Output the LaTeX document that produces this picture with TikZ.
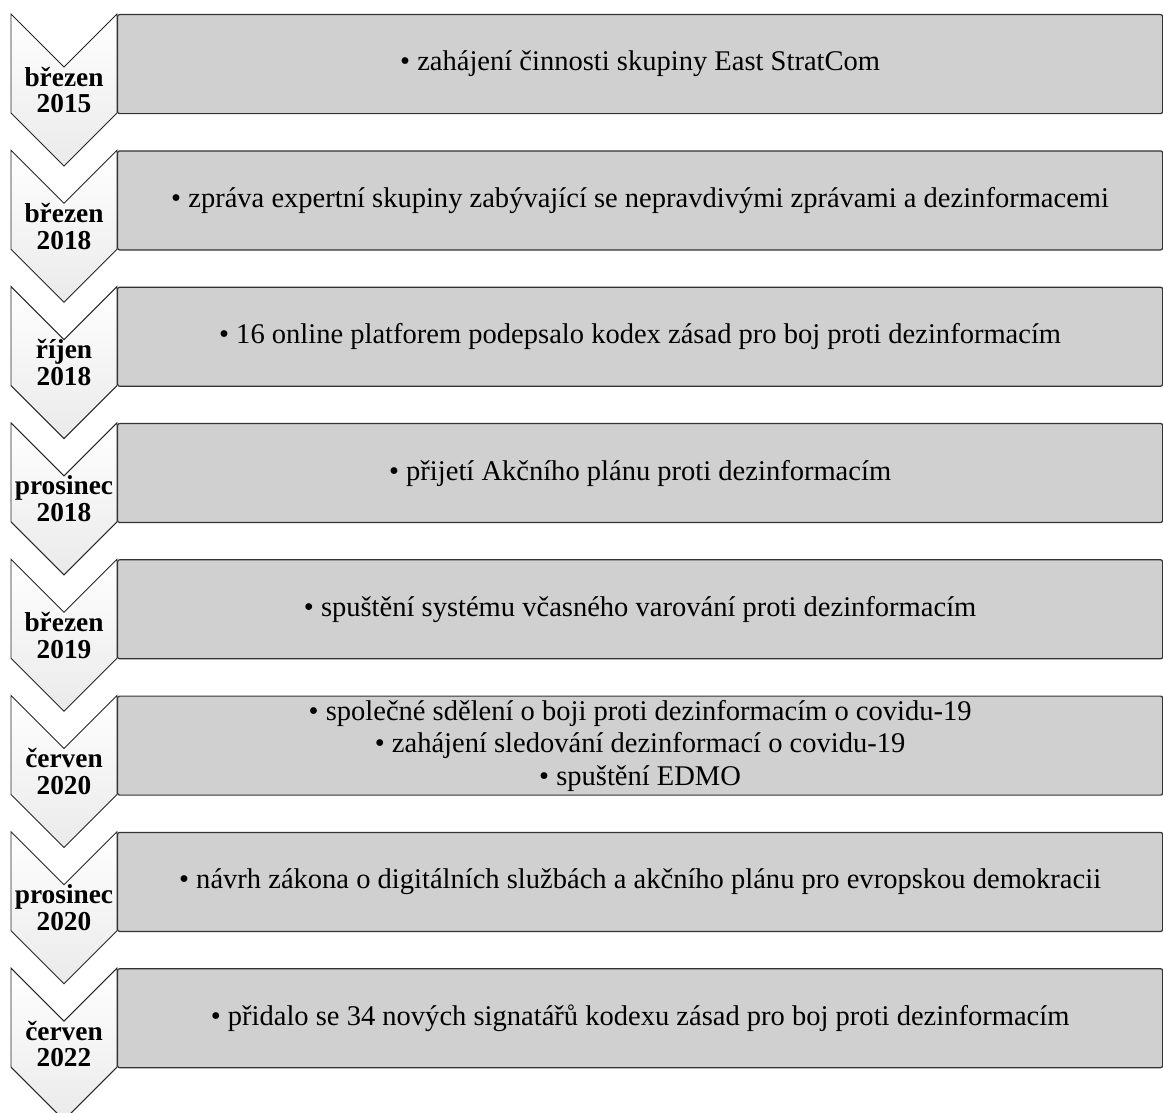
\documentclass[tikz,border=0pt]{standalone}
\usepackage{fontspec}
\setmainfont{Liberation Serif}
\usetikzlibrary{calc}
\definecolor{boxgray}{RGB}{208,208,208}
\definecolor{chevbot}{RGB}{234,234,234}
\tikzset{
  chev/.style= {draw=black!85, line width=0.7pt, top color=white, bottom color=chevbot},
  box/.style= {draw=black!80, line width=0.9pt, fill=boxgray, anchor=north west,
    minimum width=783.75pt, minimum height=74.25pt, inner sep=0pt, align=center,
    rounded corners=1.5pt, font=\fontsize{21.4}{24.4}\selectfont},
  lbl/.style= {font=\fontsize{20.5}{20}\bfseries, align=center, inner sep=0pt},
}

\begin{document}
\begin{tikzpicture}[x=0.75pt, y=-0.75pt]
  \useasboundingbox (0,0) rectangle (1163,1113);
  % chevrons
  \foreach \t in {14,150.3,286.6,422.9,559.2,695.5,831.8,968.1} {
    \shade[chev] (11,\t) -- (64,\t+53) -- (117,\t) -- (117,\t+99)
      -- (64,\t+152) -- (11,\t+99) -- cycle;
  }
  % boxes
  \node [box] (b1) at (117,14) {• zahájení činnosti skupiny East StratCom} ;
  \node [box] (b2) at (117,150.3) {• zpráva expertní skupiny zabývající se nepravdivými zprávami a dezinformacemi} ;
  \node [box] (b3) at (117,286.6) {• 16 online platforem podepsalo kodex zásad pro boj proti dezinformacím} ;
  \node [box] (b4) at (117,422.9) {• přijetí Akčního plánu proti dezinformacím} ;
  \node [box] (b5) at (117,559.2) {• spuštění systému včasného varování proti dezinformacím} ;
  \node [box] (b6) at (117,695.5) {• společné sdělení o boji proti dezinformacím o covidu-19\\
    • zahájení sledování dezinformací o covidu-19\\ • spuštění EDMO} ;
  \node [box] (b7) at (117,831.8) {• návrh zákona o digitálních službách a akčního plánu pro evropskou demokracii} ;
  \node [box] (b8) at (117,968.1) {• přidalo se 34 nových signatářů kodexu zásad pro boj proti dezinformacím} ;
  % dates
  \node [lbl] (d1) at (64,90) {březen\\2015} ;
  \node [lbl] (d2) at (64,226.3) {březen\\2018} ;
  \node [lbl] (d3) at (64,362.6) {říjen\\2018} ;
  \node [lbl] (d4) at (64,498.9) {prosinec\\2018} ;
  \node [lbl] (d5) at (64,635.2) {březen\\2019} ;
  \node [lbl] (d6) at (64,771.5) {červen\\2020} ;
  \node [lbl] (d7) at (64,907.8) {prosinec\\2020} ;
  \node [lbl] (d8) at (64,1044.1) {červen\\2022} ;
\end{tikzpicture}
\end{document}
